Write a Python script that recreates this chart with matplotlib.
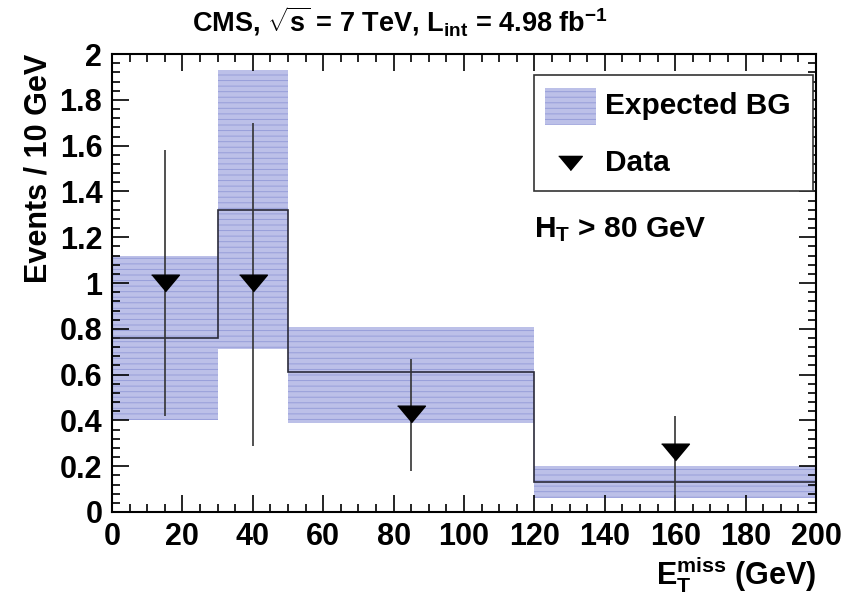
import matplotlib
matplotlib.use("Agg")
import matplotlib.pyplot as plt
from matplotlib.patches import Rectangle
from matplotlib.ticker import MultipleLocator, FormatStrFormatter
from matplotlib.lines import Line2D

plt.rcParams['font.family'] = ['Liberation Sans', 'DejaVu Sans']
plt.rcParams['font.weight'] = 'bold'
plt.rcParams['axes.labelweight'] = 'bold'
plt.rcParams['mathtext.fontset'] = 'custom'
plt.rcParams['mathtext.rm'] = 'Liberation Sans:bold'
plt.rcParams['mathtext.bf'] = 'Liberation Sans:bold'
plt.rcParams['mathtext.it'] = 'Liberation Sans:bold'
plt.rcParams['mathtext.default'] = 'rm'
plt.rcParams['hatch.linewidth'] = 0.7

# expected background per bin (MET bins in GeV)
bin_edges = [0, 30, 50, 120, 200]
bg_central = [0.76, 1.32, 0.61, 0.13]
bg_low = [0.40, 0.71, 0.39, 0.06]
bg_high = [1.12, 1.93, 0.81, 0.20]

# observed data, normalised to events / 10 GeV
data_x = [15, 40, 85, 160]
data_y = [1.0, 1.0, 0.43, 0.26]
data_err_lo = [0.58, 0.71, 0.25, 0.21]
data_err_hi = [0.58, 0.70, 0.24, 0.16]

band_face = '#bcc0e8'
band_hatch = '#979ed9'

fig = plt.figure(figsize=(8.64, 5.97), dpi=100)
ax = fig.add_axes([0.1296, 0.1424, 0.8148, 0.767])

widths = [bin_edges[i + 1] - bin_edges[i] for i in range(len(bg_central))]
heights = [h - l for h, l in zip(bg_high, bg_low)]
ax.bar(bin_edges[:-1], heights, width=widths, bottom=bg_low, align='edge',
       color=band_face, edgecolor=band_hatch, hatch='---', linewidth=0, zorder=1)
ax.stairs(bg_central, bin_edges, baseline=None, color='#2a2a3a', linewidth=1.2, zorder=2)

tri = [(-1.0, 0.6), (1.0, 0.6), (0.0, -0.6)]
ax.errorbar(data_x, data_y, yerr=[data_err_lo, data_err_hi], fmt='none',
            ecolor='#333333', elinewidth=1.2, capsize=0, zorder=3)
ax.plot(data_x, data_y, linestyle='none', marker=tri, markersize=20,
        color='black', zorder=4)

ax.set_xlim(0, 200)
ax.set_ylim(0, 2)
ax.xaxis.set_major_locator(MultipleLocator(20))
ax.xaxis.set_minor_locator(MultipleLocator(5))
ax.yaxis.set_major_locator(MultipleLocator(0.2))
ax.yaxis.set_minor_locator(MultipleLocator(0.04))
ax.yaxis.set_major_formatter(FormatStrFormatter('%g'))
ax.tick_params(which='both', direction='in', top=True, right=True, width=1.2)
ax.tick_params(which='major', length=12, labelsize=22, pad=7)
ax.tick_params(which='minor', length=6)
for s in ax.spines.values():
    s.set_linewidth(1.5)

ax.set_ylabel('Events / 10 GeV', fontsize=22, loc='top', labelpad=4)
ax.set_xlabel(r'$\mathrm{E_{T}^{miss}}$ (GeV)', fontsize=22, loc='right', labelpad=2)

fig.text(0.463, 0.965, r'CMS, $\sqrt{\mathrm{s}}$ = 7 TeV, $\mathrm{L_{int}}$ = 4.98 $\mathrm{fb^{-1}}$',
         ha='center', va='center', fontsize=19.5)

# legend box
ax.add_patch(Rectangle((0.599, 0.70), 0.397, 0.255, transform=ax.transAxes,
                       facecolor='white', edgecolor='#333333', linewidth=1.2, zorder=5))
ax.add_patch(Rectangle((0.615, 0.845), 0.072, 0.082, transform=ax.transAxes,
                       facecolor=band_face, edgecolor=band_hatch, hatch='---',
                       linewidth=0, zorder=6))
ax.text(0.701, 0.886, 'Expected BG', transform=ax.transAxes, fontsize=21.5,
        va='center', ha='left', zorder=6)
ax.add_line(Line2D([0.65], [0.762], transform=ax.transAxes, marker=tri,
                   markersize=17, color='black', linestyle='none', zorder=6))
ax.text(0.701, 0.762, 'Data', transform=ax.transAxes, fontsize=21.5,
        va='center', ha='left', zorder=6)

ax.text(0.599, 0.617, r'$\mathrm{H_{T}}$ > 80 GeV', transform=ax.transAxes,
        fontsize=21.5, va='center', ha='left')

fig.savefig('out.png', dpi=100)
